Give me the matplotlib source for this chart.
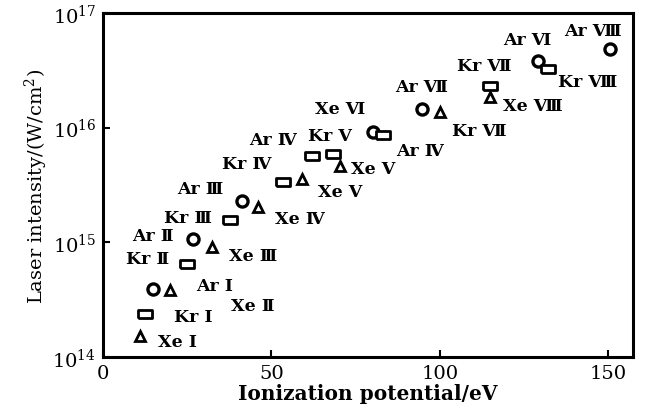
import math
import matplotlib
matplotlib.use("Agg")
import matplotlib.pyplot as plt
from matplotlib.ticker import FixedLocator, NullLocator, FuncFormatter

plt.rcParams['font.family'] = ['DejaVu Serif', 'Noto Sans CJK SC']
plt.rcParams['mathtext.fontset'] = 'dejavuserif'

# markers: ionization potential (eV), laser intensity (W/cm2)
circle_x = [14.8, 26.7, 41.2, 80.1, 94.6, 129.1, 150.4]
circle_y = [3.93e14, 1.07e15, 2.30e15, 9.2e15, 1.46e16, 3.8e16, 4.85e16]

square_x = [12.5, 24.9, 37.7, 53.4, 62.0, 68.2, 83.1, 114.8, 132.0]
square_y = [2.38e14, 6.5e14, 1.57e15, 3.36e15, 5.7e15, 5.9e15, 8.6e15, 2.31e16, 3.24e16]

tri_x = [11.0, 19.9, 32.3, 46.0, 59.1, 70.3, 100.0, 114.8]
tri_y = [1.53e14, 3.85e14, 9.1e14, 2.04e15, 3.57e15, 4.6e15, 1.37e16, 1.85e16]

# ion labels and where they sit (data coords)
ion_labels = ["Xe Ⅰ", "Kr Ⅰ", "Ar Ⅰ", "Xe Ⅱ", "Kr Ⅱ", "Ar Ⅱ", "Xe Ⅲ", "Kr Ⅲ",
              "Ar Ⅲ", "Xe Ⅳ", "Kr Ⅳ", "Ar Ⅳ", "Kr Ⅴ", "Xe Ⅵ", "Xe Ⅴ", "Xe Ⅴ",
              "Ar Ⅳ", "Kr Ⅶ", "Ar Ⅶ", "Kr Ⅶ", "Ar Ⅵ", "Ar Ⅷ", "Kr Ⅷ", "Xe Ⅷ"]
label_x = [22.0, 26.7, 33.2, 44.5, 13.1, 14.8, 44.5, 25.2,
           28.8, 58.5, 42.7, 50.4, 67.4, 70.3, 80.1, 70.3,
           94.0, 111.8, 94.6, 113.3, 125.8, 145.4, 143.9, 127.6]
label_y = [1.36e14, 2.24e14, 4.17e14, 2.79e14, 7.2e14, 1.14e15, 7.6e14, 1.66e15,
           2.92e15, 1.6e15, 4.83e15, 7.96e15, 8.5e15, 1.46e16, 4.37e15, 2.8e15,
           6.3e15, 9.4e15, 2.3e16, 3.45e16, 5.9e16, 6.97e16, 2.55e16, 1.55e16]

fig = plt.figure(figsize=(6.46, 4.14), dpi=100)
ax = fig.add_axes([0.1594, 0.1353, 0.8204, 0.8309])

rect = [(-1, -0.62), (1, -0.62), (1, 0.62), (-1, 0.62), (-1, -0.62)]
ax.plot(circle_x, circle_y, 'o', ms=8, mfc='white', mec='black', mew=2.4, ls='none')
ax.plot(square_x, square_y, marker=rect, ms=10, mfc='white', mec='black', mew=2.0, ls='none')
ax.plot(tri_x, tri_y, '^', ms=7.5, mfc='white', mec='black', mew=2.0, ls='none')

for t, x, y in zip(ion_labels, label_x, label_y):
    ax.text(x, y, t, fontsize=12.5, fontweight='bold', ha='center', va='center')

ax.set_yscale('log')
ax.set_xlim(0, 157.3)
ax.set_ylim(1e14, 1e17)
ax.xaxis.set_major_locator(FixedLocator([0, 50, 100, 150]))
ax.yaxis.set_major_locator(FixedLocator([1e14, 1e15, 1e16, 1e17]))
ax.yaxis.set_minor_locator(NullLocator())
ax.yaxis.set_major_formatter(FuncFormatter(lambda v, p: r'$10^{%d}$' % round(math.log10(v))))
ax.tick_params(direction='in', length=5, width=1.5, labelsize=14, pad=5)
for s in ax.spines.values():
    s.set_linewidth(2.2)

ax.set_xlabel("Ionization potential/eV", fontsize=14.5, fontweight='bold', labelpad=1)
ax.set_ylabel("Laser intensity/(W/cm$^2$)", fontsize=14, labelpad=2)

fig.savefig("out.png", dpi=100)
